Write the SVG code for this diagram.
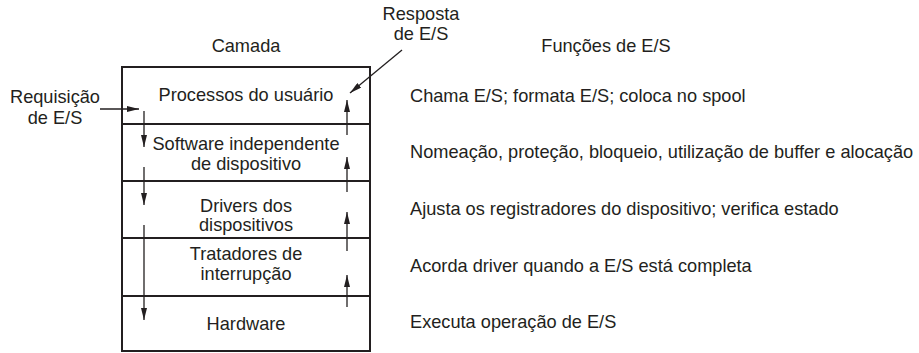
<svg xmlns="http://www.w3.org/2000/svg" width="919" height="353" viewBox="0 0 919 353">
<style>
text{font-family:"Liberation Sans",Arial,sans-serif;font-size:18.2px;fill:#231f20}
.c{text-anchor:middle}
.box{fill:none;stroke:#231f20;stroke-width:2}
.ar{fill:none;stroke:#231f20;stroke-width:1.3;marker-end:url(#ah)}
</style>
<defs>
<marker id="ah" viewBox="0 0 12 6" refX="12" refY="3" markerWidth="12" markerHeight="6" markerUnits="userSpaceOnUse" orient="auto">
<path d="M0,0 L12,3 L0,6 Z" fill="#231f20"/>
</marker>
</defs>
<text class="c" x="246" y="52">Camada</text>
<text class="c" x="606" y="52">Funções de E/S</text>
<text class="c" x="421" y="20">Resposta</text>
<text class="c" x="421" y="40">de E/S</text>
<text class="c" x="55" y="103">Requisição</text>
<text class="c" x="55" y="124">de E/S</text>
<g id="layer1"><rect class="box" x="122" y="67" width="248" height="57"/><text class="c" x="246" y="101">Processos do usuário</text></g>
<g id="layer2"><rect class="box" x="122" y="124" width="248" height="57"/><text class="c" x="246" y="150">Software independente</text><text class="c" x="246" y="170">de dispositivo</text></g>
<g id="layer3"><rect class="box" x="122" y="181" width="248" height="57"/><text class="c" x="246" y="212">Drivers dos</text><text class="c" x="246" y="231">dispositivos</text></g>
<g id="layer4"><rect class="box" x="122" y="238" width="248" height="58"/><text class="c" x="246" y="260">Tratadores de</text><text class="c" x="246" y="280">interrupção</text></g>
<g id="layer5"><rect class="box" x="122" y="296" width="248" height="55"/><text class="c" x="246" y="330">Hardware</text></g>
<g id="functions">
<text x="410" y="102">Chama E/S; formata E/S; coloca no spool</text>
<text x="410" y="158">Nomeação, proteção, bloqueio, utilização de buffer e alocação</text>
<text x="410" y="215">Ajusta os registradores do dispositivo; verifica estado</text>
<text x="410" y="272">Acorda driver quando a E/S está completa</text>
<text x="410" y="328">Executa operação de E/S</text>
</g>
<g id="connectors">
<line class="ar" x1="100" y1="109" x2="139" y2="109"/>
<line class="ar" x1="144" y1="111" x2="144" y2="147"/>
<line class="ar" x1="144" y1="167" x2="144" y2="205"/>
<line class="ar" x1="144" y1="225" x2="144" y2="320"/>
<line class="ar" x1="347" y1="307" x2="347" y2="275"/>
<line class="ar" x1="347" y1="251" x2="347" y2="212"/>
<line class="ar" x1="347" y1="192" x2="347" y2="157"/>
<line class="ar" x1="347" y1="135" x2="347" y2="100"/>
<line class="ar" x1="402" y1="50" x2="350" y2="93"/>
</g>
</svg>
